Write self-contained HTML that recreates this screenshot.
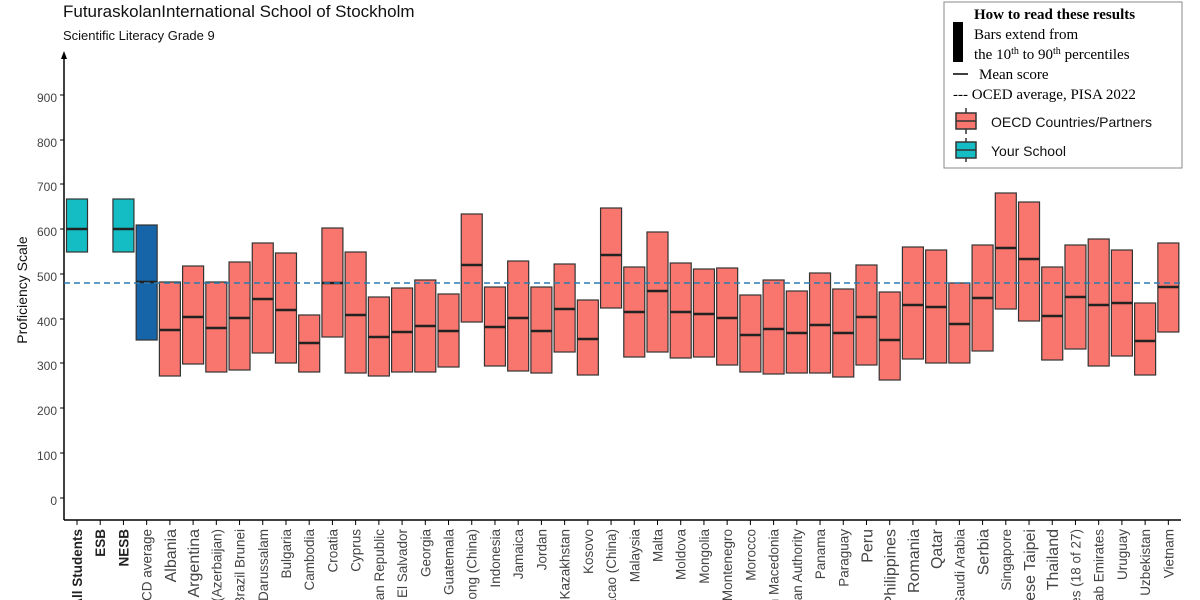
<!DOCTYPE html>
<html><head><meta charset="utf-8"><style>
html,body{margin:0;padding:0;background:#fff;width:1200px;height:600px;overflow:hidden;}
svg{display:block;}
</style></head><body>
<svg width="1200" height="600" viewBox="0 0 1200 600" xmlns="http://www.w3.org/2000/svg">
<rect width="1200" height="600" fill="#fff"/>
<text x="63" y="17" font-family="Liberation Sans, sans-serif" font-size="17" fill="#111">FuturaskolanInternational School of Stockholm</text>
<text x="63" y="40" font-family="Liberation Sans, sans-serif" font-size="13" fill="#111">Scientific Literacy Grade 9</text>
<line x1="64" y1="58" x2="64" y2="520" stroke="#000" stroke-width="1.5"/>
<polygon points="64,51 61,59 67,59" fill="#000"/>
<line x1="64" y1="520" x2="1181" y2="520" stroke="#000" stroke-width="1.5"/>
<g font-family="Liberation Sans, sans-serif" font-size="12" fill="#444" text-anchor="end">
<text x="57" y="102">900</text><text x="57" y="147">800</text><text x="57" y="191">700</text>
<text x="57" y="236">600</text><text x="57" y="281">500</text><text x="57" y="326">400</text>
<text x="57" y="370">300</text><text x="57" y="415">200</text><text x="57" y="460">100</text>
<text x="57" y="505">0</text>
</g>
<g stroke="#000" stroke-width="1">
<line x1="60" y1="95" x2="64" y2="95"/><line x1="60" y1="140" x2="64" y2="140"/><line x1="60" y1="184" x2="64" y2="184"/>
<line x1="60" y1="229" x2="64" y2="229"/><line x1="60" y1="274" x2="64" y2="274"/><line x1="60" y1="319" x2="64" y2="319"/>
<line x1="60" y1="363" x2="64" y2="363"/><line x1="60" y1="408" x2="64" y2="408"/><line x1="60" y1="453" x2="64" y2="453"/>
<line x1="60" y1="498" x2="64" y2="498"/>
</g>
<text transform="translate(27,290) rotate(-90)" text-anchor="middle" font-family="Liberation Sans, sans-serif" font-size="14" fill="#111">Proficiency Scale</text>
<g id="bars"></g>
<line x1="64" y1="283" x2="1181" y2="283" stroke="#2a7ab0" stroke-width="1.5" stroke-dasharray="6,4"/>
<g id="labels"></g>
<rect x="944" y="2" width="238" height="166" fill="#fff" stroke="#888" stroke-width="1"/>
<text x="974" y="19" font-family="Liberation Serif, serif" font-size="15" font-weight="bold" fill="#000">How to read these results</text>
<rect x="953" y="22" width="10" height="40" fill="#000"/>
<text x="974" y="39" font-family="Liberation Serif, serif" font-size="15" fill="#000">Bars extend from</text>
<text x="974" y="59" font-family="Liberation Serif, serif" font-size="15" fill="#000">the 10<tspan font-size="10" dy="-5">th</tspan><tspan dy="5"> to 90</tspan><tspan font-size="10" dy="-5">th</tspan><tspan dy="5"> percentiles</tspan></text>
<line x1="953" y1="74" x2="968" y2="74" stroke="#000" stroke-width="1.5"/>
<text x="979" y="79" font-family="Liberation Serif, serif" font-size="15" fill="#000">Mean score</text>
<text x="953" y="99" font-family="Liberation Serif, serif" font-size="15" fill="#000">---  OCED average, PISA 2022</text>
<line x1="966" y1="108" x2="966" y2="134" stroke="#333" stroke-width="1.5"/>
<rect x="956" y="113" width="20" height="16" fill="#f8766d" stroke="#333" stroke-width="1.5"/>
<line x1="956" y1="121" x2="976" y2="121" stroke="#333" stroke-width="1.5"/>
<text x="991" y="127" font-family="Liberation Sans, sans-serif" font-size="14" fill="#111">OECD Countries/Partners</text>
<line x1="966" y1="138" x2="966" y2="162" stroke="#333" stroke-width="1.5"/>
<rect x="956" y="142" width="20" height="16" fill="#14bcc4" stroke="#333" stroke-width="1.5"/>
<line x1="956" y1="150" x2="976" y2="150" stroke="#333" stroke-width="1.5"/>
<text x="991" y="156" font-family="Liberation Sans, sans-serif" font-size="14" fill="#111">Your School</text>
</svg>
<script>
var d=[
["All Students",199,229,252,"t",1],["ESB",0,0,0,"n",1],["NESB",199,229,252,"t",1],["OECD average",225,282,340,"b",0],
["Albania",282,330,376,"c",2],["Argentina",266,317,364,"c",2],["Baku (Azerbaijan)",282,328,372,"c",0],["Brazil Brunei",262,318,370,"c",0],
["Brunei Darussalam",243,299,353,"c",0],["Bulgaria",253,310,363,"c",0],["Cambodia",315,343,372,"c",0],["Croatia",228,283,337,"c",0],
["Cyprus",252,315,373,"c",0],["Dominican Republic",297,337,376,"c",0],["El Salvador",288,332,372,"c",0],["Georgia",280,326,372,"c",0],
["Guatemala",294,331,367,"c",0],["Hong Kong (China)",214,265,322,"c",0],["Indonesia",287,327,366,"c",0],["Jamaica",261,318,371,"c",0],
["Jordan",287,331,373,"c",0],["Kazakhstan",264,309,352,"c",0],["Kosovo",300,339,375,"c",0],["Macao (China)",208,255,308,"c",0],
["Malaysia",267,312,357,"c",0],["Malta",232,291,352,"c",0],["Moldova",263,312,358,"c",0],["Mongolia",269,314,357,"c",0],
["Montenegro",268,318,365,"c",0],["Morocco",295,335,372,"c",0],["North Macedonia",280,329,374,"c",0],["Palestinian Authority",291,333,373,"c",0],
["Panama",273,325,373,"c",0],["Paraguay",289,333,377,"c",0],["Peru",265,317,365,"c",2],["Philippines",292,340,380,"c",2],
["Romania",247,305,359,"c",2],["Qatar",250,307,363,"c",2],["Saudi Arabia",283,324,363,"c",0],["Serbia",245,298,351,"c",2],
["Singapore",193,248,309,"c",0],["Chinese Taipei",202,259,321,"c",2],["Thailand",267,316,360,"c",2],["Countries (18 of 27)",245,297,349,"c",0],
["United Arab Emirates",239,305,366,"c",0],["Uruguay",250,303,356,"c",0],["Uzbekistan",303,341,375,"c",0],["Vietnam",243,287,332,"c",0]];
var col={t:"#14bcc4",b:"#1565a8",c:"#f8766d"};
var ns="http://www.w3.org/2000/svg",B=document.getElementById("bars"),L=document.getElementById("labels");
function el(t,a,p){var e=document.createElementNS(ns,t);for(var k in a)e.setAttribute(k,a[k]);p.appendChild(e);return e;}
d.forEach(function(r,i){var x=77+i*23.22;
 el("line",{x1:x,y1:520,x2:x,y2:525,stroke:"#000","stroke-width":1},L);
 if(r[4]!="n"){el("rect",{x:x-10.5,y:r[1],width:21,height:r[3]-r[1],fill:col[r[4]],stroke:"#333","stroke-width":1.2},B);
 el("line",{x1:x-10.5,y1:r[2],x2:x+10.5,y2:r[2],stroke:"#222","stroke-width":2.5},B);}
 var fs=r[5]==2?16:13.5;
 var t=el("text",{transform:"translate("+(x+fs*0.37)+",529) rotate(-90)","text-anchor":"end","font-family":"Liberation Sans, sans-serif","font-size":fs,fill:r[5]==1?"#222":"#444","font-weight":r[5]==1?"bold":"normal"},L);
 t.textContent=r[0];
});
</script>
</body></html>
